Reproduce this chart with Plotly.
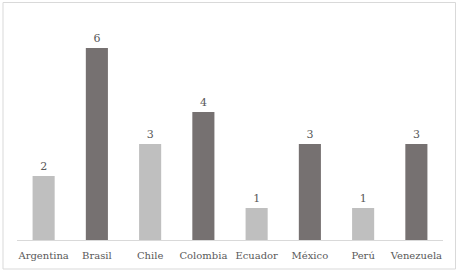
import plotly.graph_objects as go

categories = ["Argentina", "Brasil", "Chile", "Colombia", "Ecuador", "México", "Perú", "Venezuela"]
values = [2, 6, 3, 4, 1, 3, 1, 3]
colors = ["#bfbfbf", "#767171", "#bfbfbf", "#767171", "#bfbfbf", "#767171", "#bfbfbf", "#767171"]

W, H = 462, 273
ml, mr, mt, mb = 17, 19, 16, 33
pw, ph = W - ml - mr, H - mt - mb

def px_to_paper_x(x):
    return (x - ml) / pw

def px_to_paper_y(y):
    return (H - mb - y) / ph

font = dict(family="DejaVu Serif", size=10, color="#595959")
label_font = dict(family="DejaVu Serif", size=11, color="#595959")

fig = go.Figure(go.Bar(
    x=categories, y=values,
    marker=dict(color=colors, line=dict(width=0)),
    text=[str(v) for v in values], textposition="outside",
    textfont=label_font, outsidetextfont=label_font, cliponaxis=False,
))

fig.update_layout(
    width=W, height=H,
    margin=dict(l=ml, r=mr, t=mt, b=mb),
    paper_bgcolor="white", plot_bgcolor="white",
    bargap=0.585, showlegend=False,
    font=font,
    xaxis=dict(showline=True, linecolor="#d9d9d9", linewidth=1, ticks="",
               tickfont=font, tickangle=0, showgrid=False, fixedrange=True,
               automargin=False, ticklabelstandoff=6),
    yaxis=dict(range=[0, 7], visible=False, showgrid=False, fixedrange=True),
    shapes=[dict(type="rect", xref="paper", yref="paper",
                 x0=px_to_paper_x(3), x1=px_to_paper_x(455.5),
                 y0=px_to_paper_y(269), y1=px_to_paper_y(2.5),
                 line=dict(color="#d9d9d9", width=1))],
)

fig.write_html("out.html", config={"displayModeBar": False})
